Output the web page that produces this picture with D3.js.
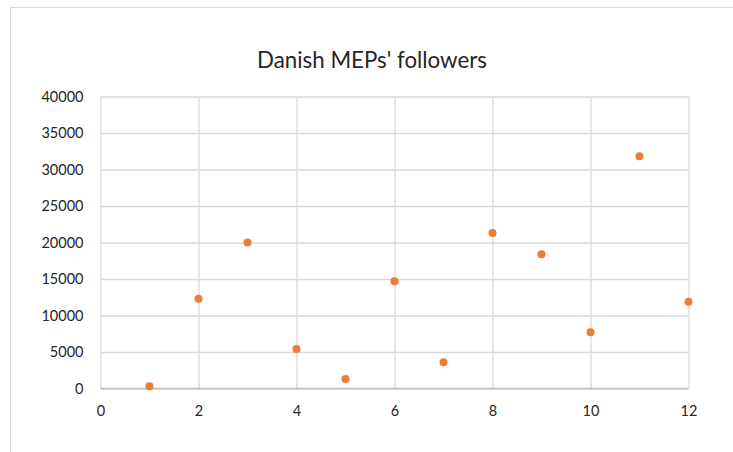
<!DOCTYPE html>
<html>
<head>
<meta charset="utf-8">
<script src="https://cdn.jsdelivr.net/npm/d3@7"></script>
<style>
  html, body { margin: 0; padding: 0; background: #fff; }
  svg { display: block; }
</style>
</head>
<body>
<svg id="chart" width="733" height="452"></svg>
<script>
// Follower counts per MEP (index 1..12)
const mepIndex = [1, 2, 3, 4, 5, 6, 7, 8, 9, 10, 11, 12];
const followers = [300, 12300, 20000, 5400, 1300, 14700, 3600, 21300, 18400, 7700, 31800, 11900];
const xTicks = [0, 2, 4, 6, 8, 10, 12];
const yTicks = [0, 5000, 10000, 15000, 20000, 25000, 30000, 35000, 40000];
const chartTitle = "Danish MEPs' followers";

const svg = d3.select("#chart");
const font = "Lato, 'Open Sans', sans-serif";
const gridColor = "#d9d9d9";

// Outer chart frame
svg.append("rect")
  .attr("x", 10.5).attr("y", 7.5)
  .attr("width", 740).attr("height", 460)
  .attr("fill", "none").attr("stroke", gridColor).attr("stroke-width", 1);

const plot = { left: 100.5, right: 688.5, top: 96.5, bottom: 388.5 };

const x = d3.scaleLinear().domain([0, 12]).range([plot.left, plot.right]);
const y = d3.scaleLinear().domain([0, 40000]).range([plot.bottom, plot.top]);

// Horizontal gridlines
svg.append("g")
  .attr("transform", `translate(${plot.left},0)`)
  .call(d3.axisLeft(y).tickValues(yTicks).tickSize(-(plot.right - plot.left)).tickFormat(""))
  .call(g => g.select(".domain").remove())
  .call(g => g.selectAll("line").attr("stroke", gridColor).attr("stroke-width", 1.3));

// Vertical gridlines
svg.append("g")
  .attr("transform", `translate(0,${plot.bottom})`)
  .call(d3.axisBottom(x).tickValues(xTicks).tickSize(-(plot.bottom - plot.top)).tickFormat(""))
  .call(g => g.select(".domain").remove())
  .call(g => g.selectAll("line").attr("stroke", gridColor).attr("stroke-width", 1.3));

// Bottom axis line
svg.append("line")
  .attr("x1", plot.left).attr("x2", plot.right)
  .attr("y1", y(0)).attr("y2", y(0))
  .attr("stroke", "#bfbfbf").attr("stroke-width", 1.3);

// Y tick labels
svg.append("g")
  .attr("transform", `translate(${plot.left},0)`)
  .call(d3.axisLeft(y).tickValues(yTicks).tickSize(0).tickPadding(17).tickFormat(d3.format("d")))
  .call(g => g.select(".domain").remove())
  .call(g => g.selectAll("text")
    .attr("fill", "#262626").attr("font-family", font).attr("font-size", 14.5));

// X tick labels
svg.append("g")
  .attr("transform", `translate(0,${plot.bottom})`)
  .call(d3.axisBottom(x).tickValues(xTicks).tickSize(0).tickPadding(17).tickFormat(d3.format("d")))
  .call(g => g.select(".domain").remove())
  .call(g => g.selectAll("text")
    .attr("fill", "#262626").attr("font-family", font).attr("font-size", 14.5));

// Title
svg.append("text")
  .attr("x", 372).attr("y", 68)
  .attr("text-anchor", "middle")
  .attr("fill", "#262626")
  .attr("font-family", font)
  .attr("font-size", 22.3)
  .text(chartTitle);

// Points
svg.append("g")
  .selectAll("circle")
  .data(mepIndex.map((m, i) => ({ m, v: followers[i] })))
  .join("circle")
  .attr("cx", d => x(d.m))
  .attr("cy", d => y(d.v))
  .attr("r", 4)
  .attr("fill", "#ED7D31");
</script>
</body>
</html>
